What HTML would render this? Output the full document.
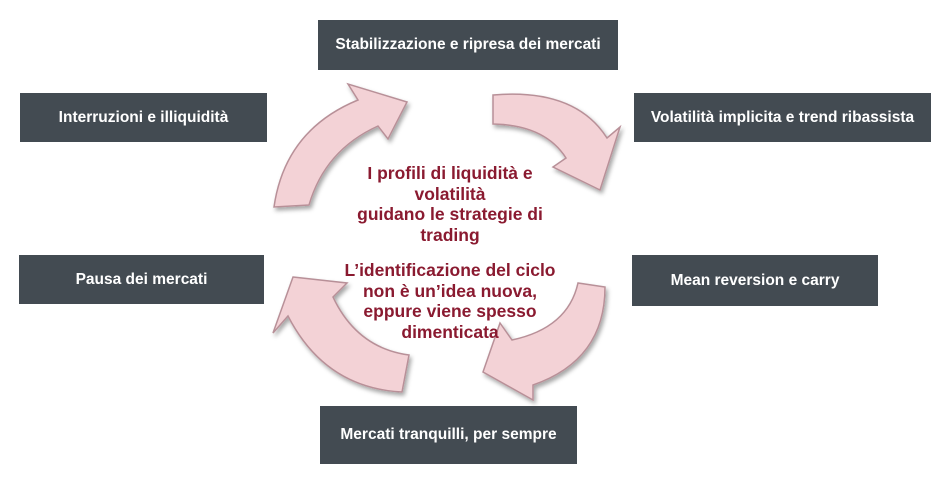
<!DOCTYPE html>
<html><head><style>
body{margin:0;width:931px;height:496px;background:#fff;position:relative;overflow:hidden;font-family:"Liberation Sans",sans-serif}
.b{position:absolute;background:#434b52;color:#fff;font-weight:bold;font-size:15.5px;display:flex;align-items:center;justify-content:center;white-space:nowrap}
.t{position:absolute;left:300px;width:300px;text-align:center;color:#8a1a30;font-weight:bold;font-size:17.5px;line-height:20.5px}
</style></head><body>
<svg width="931" height="496" style="position:absolute;left:0;top:0">
<defs><filter id="s" x="-20%" y="-20%" width="140%" height="140%"><feDropShadow dx="2" dy="3" stdDeviation="2" flood-color="#000" flood-opacity="0.35"/></filter></defs>
<g fill="#f3d2d6" stroke="#b89098" stroke-width="1.5" filter="url(#s)">
<path d="M274,207 Q285,130 358,100 L348,84 L407,102 L388,139 L378,126 Q325,150 309,205 Z"/>
<path d="M493,95 Q575,88 607,138 L620,127 L600,190 L553,167 L566,158 Q545,125 493,124 Z"/>
<path d="M605,287 Q605,360 533,385 L533,400 L483,372 L500,323 L512,340 Q568,328 578,283 Z"/>
<path d="M293,277 L347,283 L333,297 Q357,348 409,355 L402,392 Q325,388 288,316 L273,333 Z"/>
</g></svg>
<div class="b" style="left:318px;top:20px;width:300px;height:50px">Stabilizzazione e ripresa dei mercati</div>
<div class="b" style="left:20px;top:93px;width:247px;height:49px">Interruzioni e illiquidità</div>
<div class="b" style="left:634px;top:93px;width:297px;height:49px">Volatilità implicita e trend ribassista</div>
<div class="b" style="left:19px;top:255px;width:245px;height:49px">Pausa dei mercati</div>
<div class="b" style="left:632px;top:255px;width:246px;height:51px">Mean reversion e carry</div>
<div class="b" style="left:320px;top:406px;width:257px;height:58px">Mercati tranquilli, per sempre</div>
<div class="t" style="top:163px">I profili di liquidità e<br>volatilità<br>guidano le strategie di<br>trading</div>
<div class="t" style="top:260px">L’identificazione del ciclo<br>non è un’idea nuova,<br>eppure viene spesso<br>dimenticata</div>
</body></html>
